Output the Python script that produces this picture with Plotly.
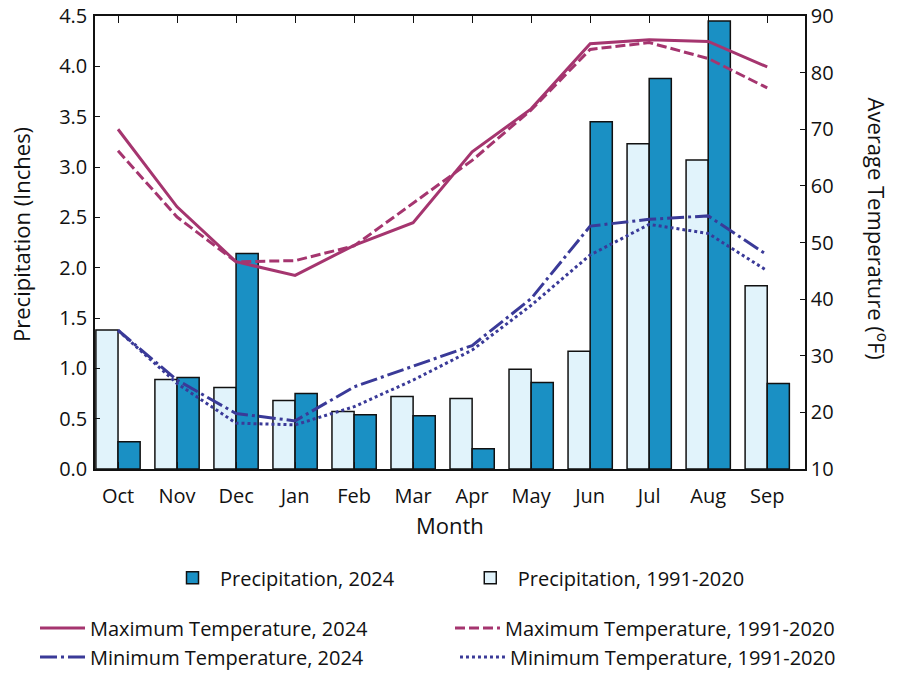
import plotly.graph_objects as go

months = ["Oct", "Nov", "Dec", "Jan", "Feb", "Mar", "Apr", "May", "Jun", "Jul", "Aug", "Sep"]

precip_2024 = [0.27, 0.91, 2.14, 0.75, 0.54, 0.53, 0.20, 0.86, 3.45, 3.88, 4.45, 0.85]
precip_normal = [1.38, 0.89, 0.81, 0.68, 0.57, 0.72, 0.70, 0.99, 1.17, 3.23, 3.07, 1.82]

tmax_2024 = [70.0, 56.3, 46.6, 44.2, 49.5, 53.5, 66.0, 73.6, 85.1, 85.8, 85.5, 81.0]
tmax_normal = [66.2, 54.5, 46.6, 46.8, 49.4, 56.9, 64.5, 73.4, 84.1, 85.3, 82.5, 77.3]
tmin_2024 = [34.5, 25.7, 19.8, 18.5, 24.5, 28.1, 31.8, 40.1, 52.9, 54.1, 54.7, 47.8]
tmin_normal = [34.5, 25.1, 18.1, 17.8, 21.0, 25.7, 31.0, 38.9, 47.8, 53.2, 51.6, 45.0]

FONT = "Open Sans"
INK = "#111111"
MAGENTA = "#A5356F"
NAVY = "#3A3A98"

fig = go.Figure()

# bars: first trace sits on the left of each month
fig.add_trace(go.Bar(x=months, y=precip_normal, name="Precipitation, 1991-2020",
                     marker=dict(color="#E1F3FB", line=dict(color=INK, width=1.5)),
                     legend="legend2", showlegend=True))
fig.add_trace(go.Bar(x=months, y=precip_2024, name="Precipitation, 2024",
                     marker=dict(color="#1A90C4", line=dict(color=INK, width=1.5)),
                     legend="legend", showlegend=True))

fig.add_trace(go.Scatter(x=months, y=tmax_2024, yaxis="y2", mode="lines",
                         name="Maximum Temperature, 2024",
                         line=dict(color=MAGENTA, width=3), legend="legend3"))
fig.add_trace(go.Scatter(x=months, y=tmax_normal, yaxis="y2", mode="lines",
                         name="Maximum Temperature, 1991-2020",
                         line=dict(color=MAGENTA, width=3, dash="10px,4px"),
                         legend="legend4"))
fig.add_trace(go.Scatter(x=months, y=tmin_2024, yaxis="y2", mode="lines",
                         name="Minimum Temperature, 2024",
                         line=dict(color=NAVY, width=3, dash="17px,4px,3px,4px"),
                         legend="legend5"))
fig.add_trace(go.Scatter(x=months, y=tmin_normal, yaxis="y2", mode="lines",
                         name="Minimum Temperature, 1991-2020",
                         line=dict(color=NAVY, width=3, dash="3px,3px"),
                         legend="legend6"))

axis_common = dict(showline=True, linecolor=INK, linewidth=1.5, ticks="inside",
                   tickcolor=INK, showgrid=False, zeroline=False,
                   ticklabeloverflow="allow",
                   tickfont=dict(family=FONT, size=20, color=INK))


def leg(x, y):
    return dict(orientation="h", x=x, y=y, xanchor="left", yanchor="middle",
                font=dict(family=FONT, size=20, color=INK), itemwidth=45,
                bgcolor="rgba(0,0,0,0)")


# the page body adds 8px on the top and left, so margins are shifted by that
fig.update_layout(
    width=900, height=679,
    showlegend=True,
    margin=dict(l=87, r=103, t=8, b=218, autoexpand=False),
    plot_bgcolor="white", paper_bgcolor="white",
    barmode="group", bargap=0.25, bargroupgap=0,
    font=dict(family=FONT, color=INK),
    xaxis=dict(**axis_common, range=[-0.39, 11.64], mirror="ticks", ticklen=7,
               ticklabelstandoff=8),
    yaxis=dict(**axis_common, range=[0, 4.5], dtick=0.5, tickformat=".1f", ticklen=5,
               ticklabelstandoff=2),
    yaxis2=dict(**axis_common, range=[10, 90], dtick=10, ticklen=5, side="right",
                overlaying="y", ticklabelstandoff=0),
    legend=leg(0.0986, -0.24),
    legend2=leg(0.518, -0.24),
    legend3=leg(-0.0845, -0.351),
    legend4=leg(0.5, -0.351),
    legend5=leg(-0.0845, -0.415),
    legend6=leg(0.507, -0.415),
    annotations=[
        dict(text="Precipitation (Inches)", xref="paper", yref="paper", x=-0.104, y=0.517,
             xanchor="center", yanchor="middle", textangle=-90, showarrow=False,
             font=dict(family=FONT, size=22)),
        dict(text="Average Temperature (<sup>o</sup>F)", xref="paper", yref="paper",
             x=1.102, y=0.53, xanchor="center", yanchor="middle", textangle=90,
             showarrow=False, font=dict(family=FONT, size=22)),
        dict(text="Month", xref="paper", yref="paper", x=0.5, y=-0.124,
             xanchor="center", yanchor="middle", showarrow=False,
             font=dict(family=FONT, size=22)),
    ],
)

fig.write_html("out.html")
